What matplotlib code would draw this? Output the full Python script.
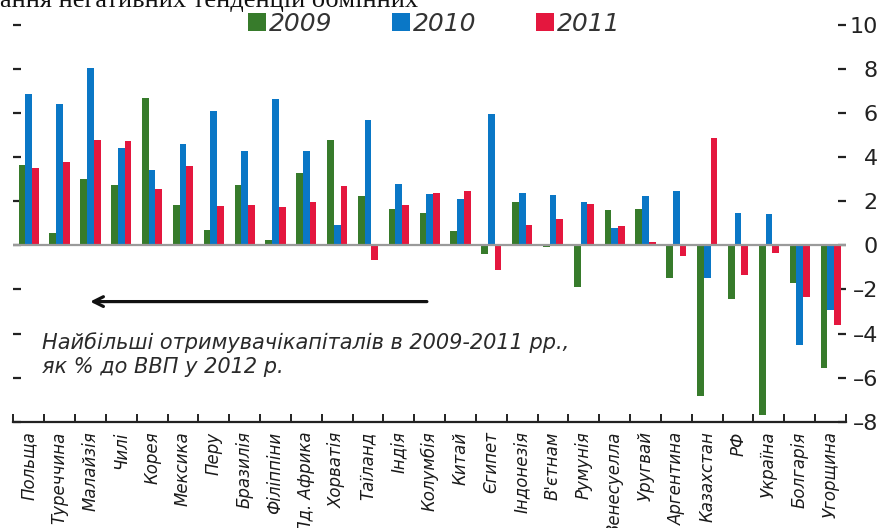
import numpy as np
import matplotlib
matplotlib.use("Agg")
import matplotlib.pyplot as plt
from matplotlib.ticker import FixedLocator, FuncFormatter

# Capital inflows, % of GDP
countries = ["Польща", "Туреччина", "Малайзія", "Чилі", "Корея", "Мексика", "Перу",
             "Бразилія", "Філіппіни", "Пд. Африка", "Хорватія", "Таїланд", "Індія",
             "Колумбія", "Китай", "Єгипет", "Індонезія", "В'єтнам", "Румунія",
             "Венесуелла", "Уругвай", "Аргентина", "Казахстан", "РФ", "Україна",
             "Болгарія", "Угорщина"]
v2009 = [3.66, 0.56, 3.01, 2.72, 6.68, 1.84, 0.70, 2.75, 0.23, 3.28, 4.76, 2.22, 1.66,
         1.47, 0.67, -0.38, 1.95, -0.09, -1.90, 1.62, 1.66, -1.48, -6.84, -2.43, -7.70,
         -1.71, -5.56]
v2010 = [6.86, 6.41, 8.04, 4.44, 3.40, 4.58, 6.10, 4.29, 6.62, 4.26, 0.94, 5.71, 2.80,
         2.33, 2.10, 5.97, 2.37, 2.27, 1.95, 0.79, 2.22, 2.48, -1.48, 1.47, 1.42,
         -4.53, -2.91]
v2011 = [3.53, 3.78, 4.78, 4.73, 2.54, 3.58, 1.77, 1.81, 1.72, 1.95, 2.70, -0.65, 1.81,
         2.37, 2.48, -1.10, 0.94, 1.20, 1.89, 0.89, 0.14, -0.47, 4.89, -1.33, -0.35,
         -2.34, -3.62]
years = ["2009", "2010", "2011"]
colors = ["#377b2b", "#0a77c6", "#e4173e"]
yticks = [10, 8, 6, 4, 2, 0, -2, -4, -6, -8]

plt.rcParams["font.family"] = "DejaVu Sans"

fig = plt.figure(figsize=(8.82, 5.28), dpi=100)
ax = fig.add_axes([0.0151, 0.2013, 0.9441, 0.7514])

x = np.arange(len(countries))
w = 0.218
bars = []
for k, (vals, col) in enumerate(zip([v2009, v2010, v2011], colors)):
    b = ax.bar(x + (k - 1) * w, vals, width=w, color=col, label=years[k], zorder=2)
    bars.append(b)

ax.axhline(0, color="#9a9a9a", lw=1.6, zorder=3)
ax.set_xlim(-0.5, len(countries) - 0.5)
ax.set_ylim(-8, 10)

for s in ["top", "left", "right"]:
    ax.spines[s].set_visible(False)
ax.spines["bottom"].set_color("#222222")
ax.spines["bottom"].set_linewidth(1.6)

# x axis: labels at centres, small marks between categories
ax.set_xticks(x)
ax.set_xticklabels(countries, rotation=90, fontstyle="italic", fontsize=12,
                   color="#1a1a1a", va="top", ha="center")
ax.tick_params(axis="x", which="major", length=0, pad=7)
ax.xaxis.set_minor_locator(FixedLocator(np.arange(-0.5, len(countries), 1.0)))
ax.tick_params(axis="x", which="minor", direction="in", length=6, width=1.4,
               color="#222222")

# y axis: marks on both sides, numbers on the right (en dash as the minus sign)
ax.set_yticks(yticks)
ax.yaxis.set_major_formatter(FuncFormatter(
    lambda v, pos: f"\u2013{abs(v):g}" if v < 0 else f"{v:g}"))
ax.yaxis.set_ticks_position("both")
ax.tick_params(axis="y", which="major", direction="in", length=6, width=1.6,
               color="#222222", left=True, right=True, labelleft=False,
               labelright=True, pad=23, labelsize=16, labelcolor="#222222")
for lab in ax.get_yticklabels():
    lab.set_horizontalalignment("right")

# annotation: arrow and caption
ax.annotate("", xy=(1.9, -2.55), xytext=(13.0, -2.55),
            arrowprops=dict(arrowstyle="->,head_length=0.7,head_width=0.35",
                            color="#111111", lw=2.3))
ax.text(0.43, -4.4, "Найбільші отримувачікапіталів в 2009-2011 рр.,",
        fontsize=15, fontstyle="italic", color="#2a2a2a",
        va="center", ha="left")
ax.text(0.43, -5.5, "як % до ВВП у 2012 р.",
        fontsize=15, fontstyle="italic", color="#2a2a2a",
        va="center", ha="left")

# legend across the top
leg = fig.legend(handles=bars, labels=years, loc="center", ncol=3,
                 bbox_to_anchor=(0.4926, 0.955), frameon=False,
                 prop=dict(style="italic", size=18),
                 handlelength=0.72, handleheight=0.72, handletextpad=0.1,
                 columnspacing=2.4, borderpad=0.0)
for t in leg.get_texts():
    t.set_color("#333333")

# running text of the page above the chart
fig.text(0.0, 1 - 7 / 528, "ання негативних тенденцій обмінних",
         family="Liberation Serif", fontsize=19, va="baseline", ha="left",
         color="#111111")

fig.savefig("out.png", dpi=100)
